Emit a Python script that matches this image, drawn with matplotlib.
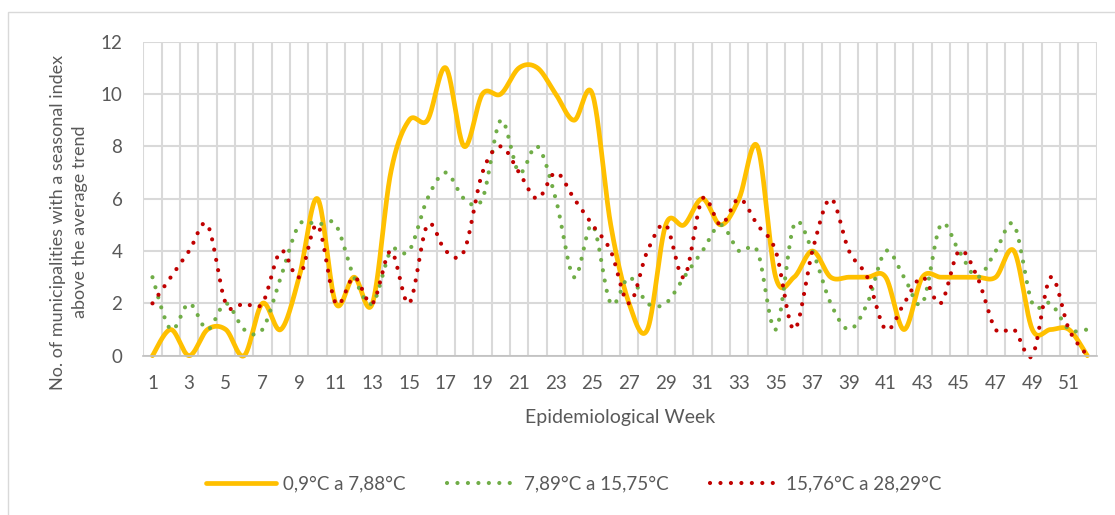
import numpy as np
import matplotlib
matplotlib.use("Agg")
import matplotlib.pyplot as plt
from matplotlib.patches import Rectangle
from matplotlib.lines import Line2D

plt.rcParams['font.family'] = ['Lato', 'DejaVu Sans']

weeks = list(range(1, 53))
cold = [0, 1, 0, 1, 1, 0, 2, 1, 3, 6, 2, 3, 2, 7, 9, 9, 11, 8, 10, 10,
        11, 11, 10, 9, 10, 5, 2, 1, 5, 5, 6, 5, 6, 8, 3, 3, 4, 3, 3, 3,
        3, 1, 3, 3, 3, 3, 3, 4, 1, 1, 1, 0]
mild = [3, 1, 2, 1, 2, 1, 1, 3, 5, 5, 5, 3, 2, 4, 4, 6, 7, 6, 6, 9,
        7, 8, 6, 3, 5, 2, 3, 2, 2, 3, 4, 5, 4, 4, 1, 5, 4, 2, 1, 2,
        4, 3, 2, 5, 4, 3, 4, 5, 2, 2, 1, 1]
warm = [2, 3, 4, 5, 2, 2, 2, 4, 3, 5, 2, 3, 2, 4, 2, 5, 4, 4, 7, 8,
        7, 6, 7, 6, 5, 4, 2, 4, 5, 3, 6, 5, 6, 5, 4, 1, 4, 6, 4, 3,
        1, 2, 3, 2, 4, 3, 1, 1, 0, 3, 1, 0]
labels = ['0,9°C a 7,88°C', '7,89°C a 15,75°C', '15,76°C a 28,29°C']
colors = ['#FFC000', '#70AD47', '#C00000']
txt = '#595959'
grid = '#D9D9D9'


def smooth(x, y, steps=40):
    # Excel-style smoothed line: cubic Bezier segments through each point
    p = np.column_stack([x, y]).astype(float)
    n = len(p)
    t = np.linspace(0, 1, steps)[:, None]
    out = [p[:1]]
    for i in range(n - 1):
        a = p[i - 1] if i > 0 else p[i]
        d = p[i + 2] if i + 2 < n else p[i + 1]
        c1 = p[i] + (p[i + 1] - a) / 6
        c2 = p[i + 1] - (d - p[i]) / 6
        seg = ((1 - t) ** 3 * p[i] + 3 * (1 - t) ** 2 * t * c1
               + 3 * (1 - t) * t ** 2 * c2 + t ** 3 * p[i + 1])
        out.append(seg[1:])
    s = np.vstack(out)
    return s[:, 0], s[:, 1]


W, H = 1115, 515
fig = plt.figure(figsize=(W / 100, H / 100), dpi=100)
fig.patches.append(Rectangle((8 / W, -0.2), 1.2, 1.2 - 12 / H,
                             transform=fig.transFigure, fill=False,
                             edgecolor=grid, lw=1))
ax = fig.add_axes([143.3 / W, 1 - 355.7 / H, (1096.5 - 143.3) / W, 314 / H])

ax.set_xlim(0.5, 52.5)
ax.set_ylim(0, 12)
ax.set_yticks(range(0, 13, 2))
ax.set_xticks(weeks[::2])
ax.set_xticks(np.arange(0.5, 53, 1), minor=True)
ax.grid(True, which='minor', axis='x', color=grid, lw=1.5)
ax.grid(True, which='major', axis='y', color=grid, lw=1.5)
ax.set_axisbelow(True)
ax.tick_params(which='both', length=0, labelsize=13.5, labelcolor=txt)
ax.tick_params(axis='y', pad=15)
ax.tick_params(axis='x', pad=14)
for s in ['top', 'right', 'left']:
    ax.spines[s].set_visible(False)
ax.spines['bottom'].set_color('#BFBFBF')
ax.spines['bottom'].set_linewidth(1.2)

dots = (0, (0.01, 2.5))
styles = [
    dict(lw=3.4, linestyle='-'),
    dict(lw=3.0, linestyle=dots),
    dict(lw=3.0, linestyle=dots),
]
for series, c, st in zip([cold, mild, warm], colors, styles):
    xs, ys = smooth(weeks, series)
    ax.plot(xs, ys, color=c, solid_capstyle='round', dash_capstyle='round',
            clip_on=False, **st)

fig.text(69 / W, 1 - 222 / H,
         'No. of municipalities with a seasonal index\nabove the average trend',
         rotation=90, ha='center', va='center', multialignment='center',
         fontsize=13, color=txt, linespacing=1.5)
fig.text(620 / W, 1 - 417 / H, 'Epidemiological Week', ha='center',
         va='center', fontsize=14, color=txt)

handles = [Line2D([], [], color=c, solid_capstyle='round',
                  dash_capstyle='round', **st) for c, st in zip(colors, styles)]
fig.legend(handles, labels, loc='center', bbox_to_anchor=(574 / W, 1 - 484 / H),
           ncol=3, frameon=False, fontsize=13.5, labelcolor=txt,
           handlelength=3.7, handletextpad=0.4, columnspacing=2.2)

fig.savefig('out.png', dpi=100)
